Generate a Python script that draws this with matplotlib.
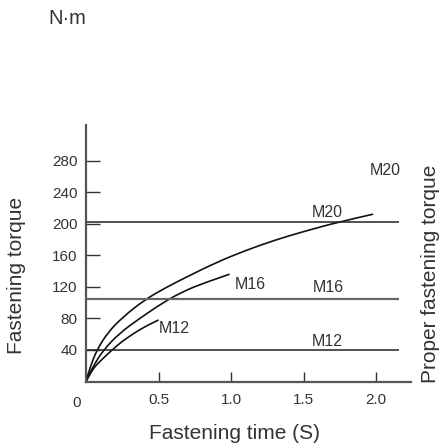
import matplotlib
matplotlib.use('Agg')
import matplotlib.pyplot as plt
from matplotlib.path import Path
from matplotlib.patches import PathPatch

plt.rcParams['font.family'] = ['Liberation Sans', 'DejaVu Sans']

# Curves (time in s, torque in N·m)
m20_t = [0, 0.03, 0.075, 0.15, 0.25, 0.40, 0.55, 0.70, 0.90, 1.10, 1.30, 1.50, 1.75, 1.98]
m20_v = [0, 19, 40, 62, 81, 103, 119, 133, 151, 166, 179, 190, 202.5, 212]
m16_t = [0, 0.045, 0.12, 0.23, 0.37, 0.54, 0.67, 0.80, 0.99]
m16_v = [0, 18, 40, 61, 80, 101, 114, 124, 136]
m12_t = [0, 0.03, 0.06, 0.11, 0.18, 0.25, 0.33, 0.41, 0.50]
m12_v = [0, 10, 18.8, 28, 40, 51, 61, 70, 78]

# Proper fastening torque levels
proper_names = ['M12', 'M16', 'M20']
proper_vals = [40, 104.6, 202.5]

x_ticks = [0.5, 1.0, 1.5, 2.0]
x_labels = ['0.5', '1.0', '1.5', '2.0']
y_ticks = [40, 80, 120, 160, 200, 240, 280]
y_labels = ['40', '80', '120', '160', '200', '240', '280']

W, H = 442, 443
fig = plt.figure(figsize=(W / 100, H / 100), dpi=100)
ax = fig.add_axes([86 / W, (H - 381.5) / H, (411 - 86) / W, (381.5 - 125) / H])
ax.set_xlim(0, 2.241)
ax.set_ylim(0, 325)

txt = '#333333'
for s in ['top', 'right']:
    ax.spines[s].set_visible(False)
for s in ['left', 'bottom']:
    ax.spines[s].set_color('#555555')
    ax.spines[s].set_linewidth(1.6)

ax.set_xticks(x_ticks)
ax.set_xticklabels(x_labels)
ax.set_yticks(y_ticks)
ax.set_yticklabels(y_labels)
ax.tick_params(axis='x', direction='in', length=7.5, width=1.0, color='#333333',
               labelsize=11, labelcolor=txt, pad=8)
ax.tick_params(axis='y', direction='in', length=10, width=1.0, color='#333333',
               labelsize=11, labelcolor=txt, pad=6)

# horizontal proper-torque lines
line_cols = ['#222222', '#666666', '#222222']
line_w = [1.1, 1.6, 1.1]
for v, c, lw in zip(proper_vals, line_cols, line_w):
    ax.hlines(v, 0, 2.16, colors=c, linewidth=lw)


def smooth_path(ts, vs):
    pts = list(zip(ts, vs))
    verts = [pts[0]]
    codes = [Path.MOVETO]
    verts.append(((pts[0][0] + pts[1][0]) / 2, (pts[0][1] + pts[1][1]) / 2))
    codes.append(Path.LINETO)
    for i in range(1, len(pts) - 1):
        mid = ((pts[i][0] + pts[i + 1][0]) / 2, (pts[i][1] + pts[i + 1][1]) / 2)
        if i == len(pts) - 2:
            mid = pts[i + 1]
        verts += [pts[i], mid]
        codes += [Path.CURVE3, Path.CURVE3]
    return Path(verts, codes)


for t, v in [(m20_t, m20_v), (m16_t, m16_v), (m12_t, m12_v)]:
    ax.add_patch(PathPatch(smooth_path(t, v), fill=False, edgecolor='#111111',
                           linewidth=1.2, transform=ax.transData))

fs = 11.5
ax.text(0.503, 61.3, 'M12', fontsize=fs, color=txt, va='baseline', ha='left')
ax.text(1.023, 117.1, 'M16', fontsize=fs, color=txt, va='baseline', ha='left')
ax.text(1.563, 112.8, 'M16', fontsize=fs, color=txt, va='baseline', ha='left')
ax.text(1.557, 208.7, 'M20', fontsize=fs, color=txt, va='baseline', ha='left')
ax.text(1.959, 262, 'M20', fontsize=fs, color=txt, va='baseline', ha='left')
ax.text(1.557, 44.4, 'M12', fontsize=fs, color=txt, va='baseline', ha='left')

fig.text(76.7 / W, 1 - 402.7 / H, '0', fontsize=11, color=txt, ha='center', va='center')
fig.text(48 / W, 1 - 18.5 / H, 'N·m', fontsize=14.5, color=txt, ha='left', va='center')
fig.text(17 / W, 1 - 275 / H, 'Fastening torque', fontsize=15, color=txt,
         rotation=90, ha='center', va='center')
fig.text(430 / W, 1 - 273.5 / H, 'Proper fastening torque', fontsize=15, color=txt,
         rotation=90, ha='center', va='center')
fig.text(234.5 / W, 1 - 439 / H, 'Fastening time (S)', fontsize=15, color=txt,
         ha='center', va='baseline')

fig.savefig('out.png', dpi=100)
